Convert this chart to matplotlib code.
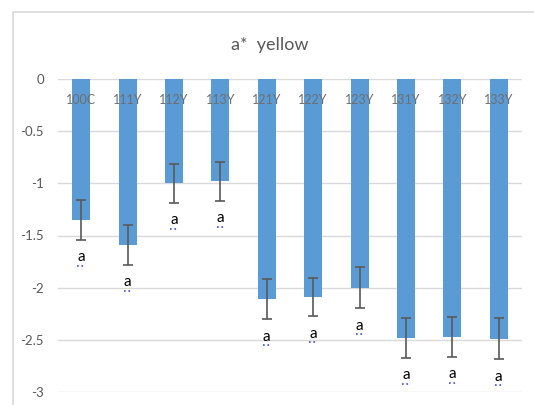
import matplotlib
matplotlib.use("Agg")
import matplotlib.pyplot as plt
from matplotlib.patches import Rectangle

# data
samples = ["100C", "111Y", "112Y", "113Y", "121Y", "122Y", "123Y", "131Y", "132Y", "133Y"]
a_yellow = [-1.35, -1.59, -1.00, -0.98, -2.11, -2.09, -2.00, -2.48, -2.47, -2.49]
sd = [0.19, 0.19, 0.185, 0.185, 0.19, 0.185, 0.195, 0.19, 0.19, 0.195]
letters = ["a"] * 10
yticks = [0, -0.5, -1, -1.5, -2, -2.5, -3]

plt.rcParams['font.family'] = ['Lato', 'DejaVu Sans']

fig = plt.figure(figsize=(5.34, 4.05), dpi=100)
ax = fig.add_axes([58/534, 1-392/405, 464/534, 313/405])

x = list(range(len(samples)))
ax.bar(x, a_yellow, width=0.39, color="#5B9BD5", zorder=2)
ax.errorbar(x, a_yellow, yerr=sd, fmt="none", ecolor="#595959",
            elinewidth=1.2, capsize=3.5, capthick=1.2, zorder=3)

# sample names just under the zero line
for xi, name in zip(x, samples):
    ax.text(xi, -0.2, name, ha="center", va="center", fontsize=9,
            color="#6e6e6e", zorder=4)

# significance letters under each error bar
for xi, m, e, lt in zip(x, a_yellow, sd, letters):
    yl = m - e - 0.17
    ax.text(xi, yl, lt, ha="center", va="center", fontsize=11,
            color="black", zorder=4)
    ax.plot([xi - 0.08, xi + 0.08], [yl - 0.08, yl - 0.08], ls=":",
            color="#3a4fd6", lw=1.2, zorder=4)

ax.set_xlim(-0.5, len(samples) - 0.5)
ax.set_ylim(-3, 0)
ax.set_yticks(yticks)
ax.set_yticklabels([f"{t:g}" for t in yticks])
ax.tick_params(axis="y", length=0, pad=10, labelsize=9.5, labelcolor="#595959")
ax.set_xticks([])
ax.grid(axis="y", color="#d9d9d9", lw=1, zorder=0)
for s in ax.spines.values():
    s.set_visible(False)

fig.text(270/534, 1-45/405, "a*  yellow", ha="center", va="center",
         fontsize=13, color="#595959")

# chart frame (cut off at right and bottom)
fig.patches.append(Rectangle((13/534, -0.1), 1.2, 1-12/405+0.1,
                             transform=fig.transFigure, fill=False,
                             edgecolor="#d9d9d9", lw=1.2))

fig.savefig("out.png", dpi=100)
